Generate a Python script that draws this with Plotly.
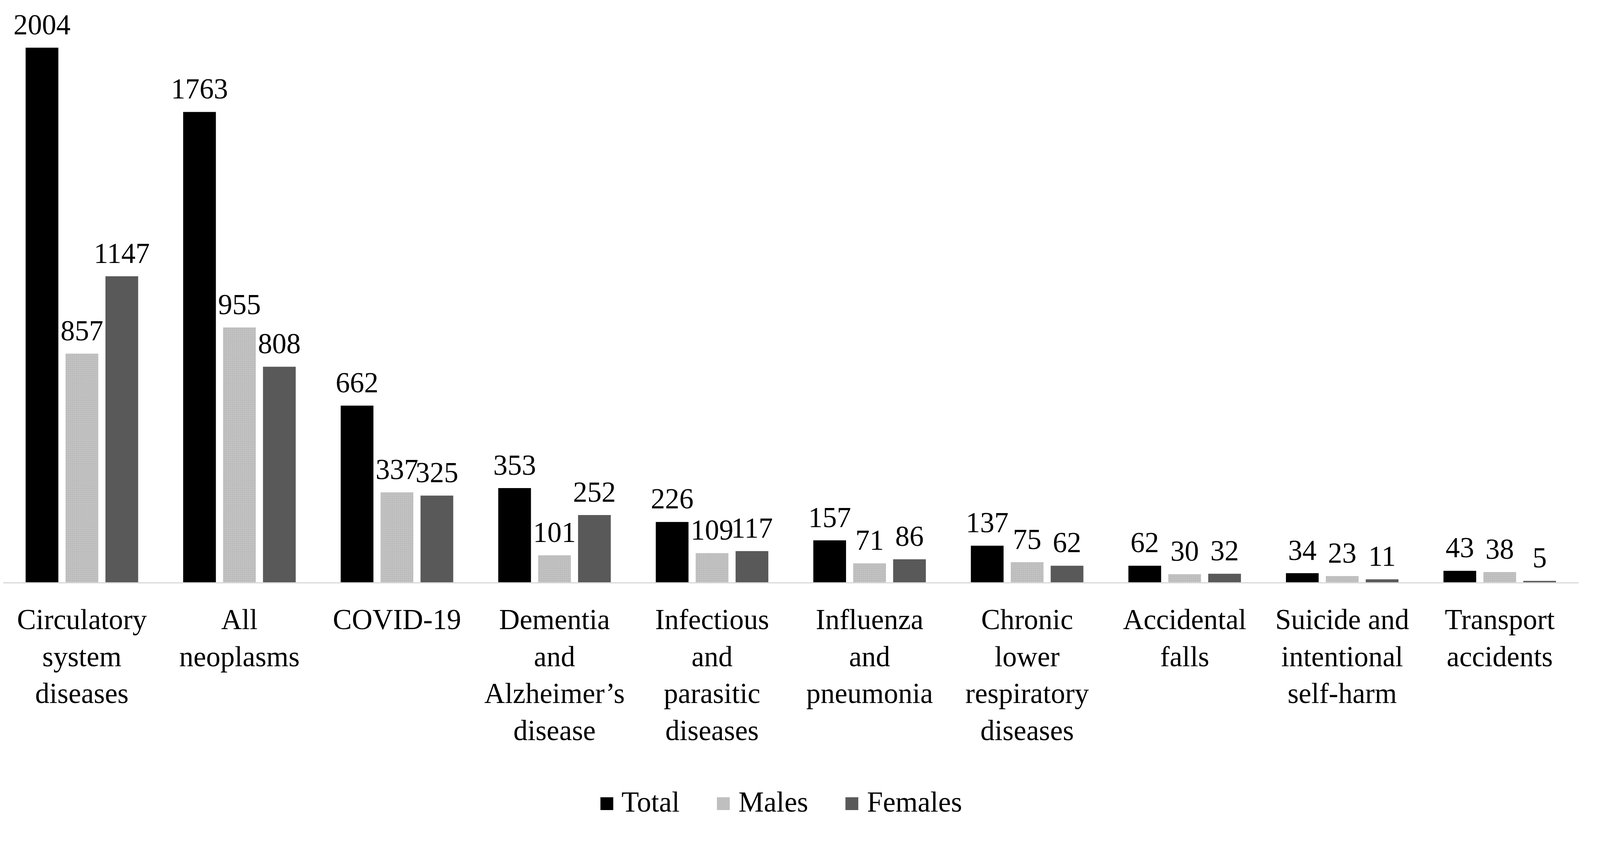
import plotly.graph_objects as go

categories = [
    "Circulatory<br>system<br>diseases",
    "All<br>neoplasms",
    "COVID-19",
    "Dementia<br>and<br>Alzheimer’s<br>disease",
    "Infectious<br>and<br>parasitic<br>diseases",
    "Influenza<br>and<br>pneumonia",
    "Chronic<br>lower<br>respiratory<br>diseases",
    "Accidental<br>falls",
    "Suicide and<br>intentional<br>self-harm",
    "Transport<br>accidents",
]
total = [2004, 1763, 662, 353, 226, 157, 137, 62, 34, 43]
males = [857, 955, 337, 101, 109, 71, 75, 30, 23, 38]
females = [1147, 808, 325, 252, 117, 86, 62, 32, 11, 5]

series_names = ["Total", "Males", "Females"]
series_values = [total, males, females]
series_colors = ["#000000", "#bfbfbf", "#595959"]

FONT = "Liberation Serif"
W, H = 4056, 2094
ML, MR, MT, MB = 0, 23, 90, 612
plot_w = W - ML - MR
plot_h = H - MT - MB
GAP = 0.24

fig = go.Figure()
for name, vals, col in zip(series_names, series_values, series_colors):
    marker = dict(color=col, line=dict(width=0))
    if name == "Males":
        marker["pattern"] = dict(shape=".", fgcolor="#acacac", bgcolor="#c3c3c3",
                                 size=5, solidity=0.35)
    fig.add_trace(go.Bar(
        x=categories, y=vals, name=name, marker=marker,
        offsetgroup=name, showlegend=False, hoverinfo="skip",
    ))

# value labels: grouped text points placed by the library above each bar
for name, vals in zip(series_names, series_values):
    fig.add_trace(go.Scatter(
        x=categories, y=vals, mode="markers+text", offsetgroup=name,
        text=[str(v) for v in vals], textposition="top center",
        textfont=dict(family=FONT, size=73, color="#000000"),
        marker=dict(size=24, opacity=0, color="white"),
        cliponaxis=False, showlegend=False, hoverinfo="skip",
    ))

# legend built from text annotations (large squares like the reference)
legend_parts = []
for name, col in zip(series_names, series_colors):
    legend_parts.append(
        f'<span style="color:{col};font-size:68px">■</span> {name}')
legend_text = "     ".join(legend_parts)

fig.add_annotation(
    text=legend_text, xref="paper", yref="paper",
    x=1990 / plot_w, y=-(2045 - (H - MB)) / plot_h,
    xanchor="center", yanchor="middle", showarrow=False,
    font=dict(family=FONT, size=73, color="#000000"),
    borderpad=0,
)

fig.update_layout(
    width=W, height=H,
    margin=dict(l=ML, r=MR, t=MT, b=MB, autoexpand=False),
    paper_bgcolor="white", plot_bgcolor="white",
    barmode="group", bargap=GAP, bargroupgap=0.18,
    scattermode="group", scattergap=GAP,
    font=dict(family=FONT, size=73, color="#000000"),
    showlegend=False,
)
fig.update_xaxes(
    showline=True, linecolor="#d9d9d9", linewidth=3,
    showgrid=False, ticks="", ticklabelstandoff=29,
    tickfont=dict(family=FONT, size=73, color="#000000"),
    tickangle=0,
)
fig.update_yaxes(
    range=[0, 2039], showgrid=False, showticklabels=False,
    zeroline=False, showline=False, ticks="",
)

fig.write_html("out.html")
